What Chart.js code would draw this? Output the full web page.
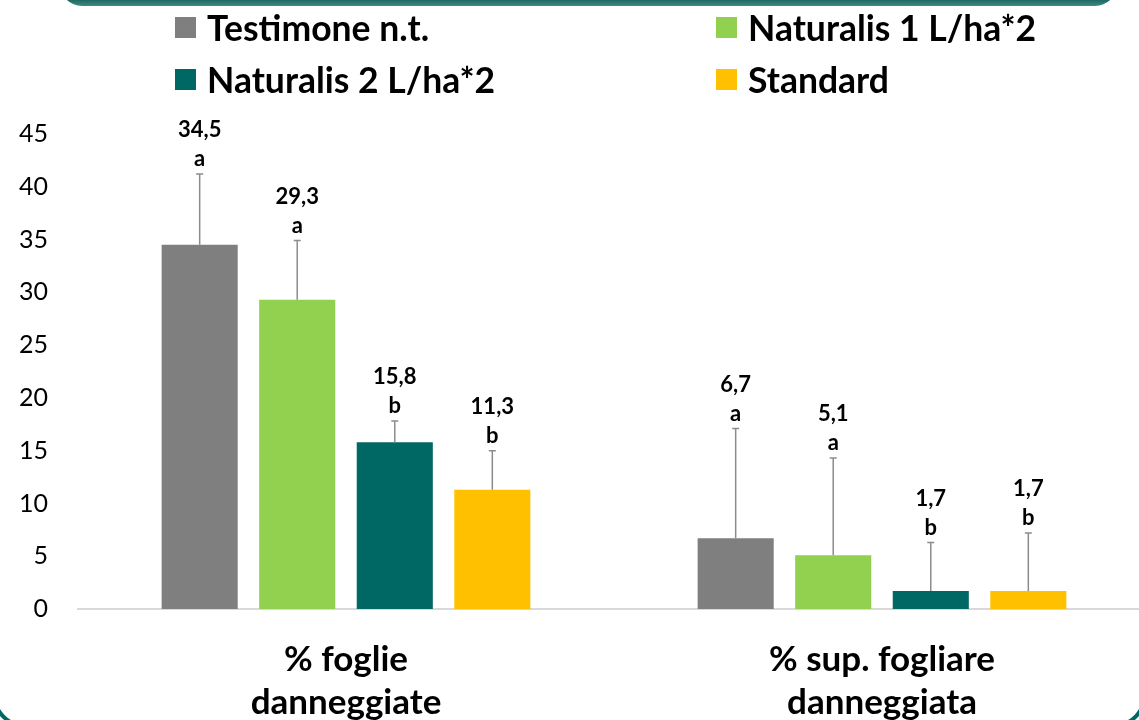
<!DOCTYPE html>
<html>
<head>
<meta charset="utf-8"/>
<style>
  html,body{margin:0;padding:0;background:#fff;overflow:hidden;}
  #wrap{position:relative;width:1139px;height:720px;overflow:hidden;background:#fff;}
  #band{position:absolute;left:60px;top:-40px;width:1057px;height:46px;border-radius:0 0 22px 22px;
        background:linear-gradient(to bottom,#0b4f4a 0%,#10564f 80%,#3d8a84 100%);}
  #frame{position:absolute;left:-8px;top:-200px;width:1147px;height:920px;border:4px solid #006864;border-radius:34px;}
  #c{position:absolute;left:0;top:0;}
  .leg{position:absolute;display:flex;align-items:center;height:30px;
       font-family:Lato,sans-serif;font-weight:bold;font-size:35.5px;color:#000;white-space:nowrap;}
  .leg i{display:inline-block;width:21px;height:21px;margin-right:11px;}
</style>
</head>
<body>
<div id="wrap">
  <div id="frame"></div>
  <div id="band"></div>
  <canvas id="c" width="1150" height="730"></canvas>
  <div id="legend"></div>
</div>
<script src="https://cdn.jsdelivr.net/npm/chart.js@4.4.0/dist/chart.umd.min.js"></script>
<script>
  const categories = [["% foglie", "danneggiate"], ["% sup. fogliare", "danneggiata"]];
  const seriesNames = ["Testimone n.t.", "Naturalis 1 L/ha*2", "Naturalis 2 L/ha*2", "Standard"];
  const seriesColors = ["#7f7f7f", "#92d050", "#006864", "#ffc000"];

  const testimone  = [34.5, 6.7];
  const naturalis1 = [29.3, 5.1];
  const naturalis2 = [15.8, 1.7];
  const standard   = [11.3, 1.7];

  // upper error bars
  const errTestimone  = [6.7, 10.4];
  const errNaturalis1 = [5.6, 9.2];
  const errNaturalis2 = [2.0, 4.6];
  const errStandard   = [3.7, 5.5];

  // letters (significance)
  const lettTestimone  = ["a", "a"];
  const lettNaturalis1 = ["a", "a"];
  const lettNaturalis2 = ["b", "b"];
  const lettStandard   = ["b", "b"];

  const yTicks = [0, 5, 10, 15, 20, 25, 30, 35, 40, 45];

  const values  = [testimone, naturalis1, naturalis2, standard];
  const errors  = [errTestimone, errNaturalis1, errNaturalis2, errStandard];
  const letters = [lettTestimone, lettNaturalis1, lettNaturalis2, lettStandard];

  // legend, 2 columns
  const legPos = [[175, 12], [716, 12], [175, 64], [716, 64]];
  const legend = document.getElementById("legend");
  seriesNames.forEach((n, i) => {
    const d = document.createElement("div");
    d.className = "leg";
    d.style.left = legPos[i][0] + "px";
    d.style.top  = legPos[i][1] + "px";
    d.innerHTML = '<i style="background:' + seriesColors[i] + '"></i>' + n;
    legend.appendChild(d);
  });

  const errorPlugin = {
    id: "errbars",
    afterDatasetsDraw(chart) {
      const ctx = chart.ctx, y = chart.scales.y;
      ctx.save();
      chart.data.datasets.forEach((ds, di) => {
        chart.getDatasetMeta(di).data.forEach((bar, i) => {
          const v = values[di][i];
          const top = y.getPixelForValue(v + errors[di][i]);
          const x = bar.x;
          ctx.strokeStyle = "#8c8c8c";
          ctx.lineWidth = 1.5;
          ctx.beginPath();
          ctx.moveTo(x, bar.y); ctx.lineTo(x, top);
          ctx.moveTo(x - 3.5, top); ctx.lineTo(x + 3.5, top);
          ctx.stroke();
          ctx.fillStyle = "#000";
          ctx.font = "bold 22px Lato, sans-serif";
          ctx.textAlign = "center";
          ctx.textBaseline = "middle";
          ctx.fillText(letters[di][i], x, top - 15);
          ctx.fillText(v.toFixed(1).replace(".", ","), x, top - 44);
        });
      });
      ctx.restore();
    }
  };

  new Chart(document.getElementById("c"), {
    type: "bar",
    data: {
      labels: categories,
      datasets: seriesNames.map((n, i) => ({
        label: n,
        data: values[i],
        backgroundColor: seriesColors[i],
        categoryPercentage: 0.728,
        barPercentage: 0.78
      }))
    },
    options: {
      responsive: false,
      animation: false,
      layout: { padding: { top: 134, bottom: 6, left: 0, right: 0 } },
      plugins: { legend: { display: false }, tooltip: { enabled: false } },
      scales: {
        x: {
          afterFit(scale) { scale.height = 115; },
          grid: { display: false, drawTicks: false },
          border: { display: true, color: "#d9d9d9", width: 2 },
          ticks: {
            color: "#000", padding: 29,
            font: { family: "Lato, sans-serif", weight: "bold", size: 35, lineHeight: 1.23 }
          }
        },
        y: {
          min: 0, max: 45,
          afterFit(scale) { scale.width = 78; },
          afterBuildTicks(scale) { scale.ticks = yTicks.map(v => ({ value: v })); },
          grid: { display: false, drawTicks: false },
          border: { display: false },
          ticks: { color: "#000", padding: 30, font: { family: "Lato, sans-serif", size: 25 } }
        }
      }
    },
    plugins: [errorPlugin]
  });
</script>
</body>
</html>
